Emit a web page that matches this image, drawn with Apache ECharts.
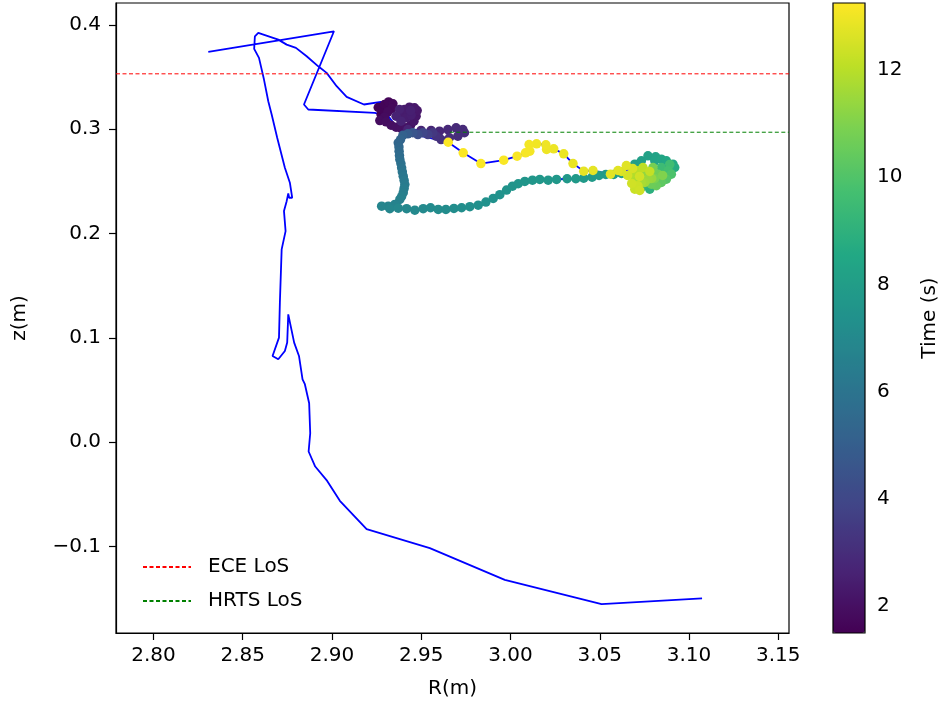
<!DOCTYPE html>
<html>
<head>
<meta charset="utf-8">
<script src="https://cdn.jsdelivr.net/npm/echarts@6/dist/echarts.min.js"></script>
<style>
html,body{margin:0;padding:0;background:#fff;}
#chart{width:946px;height:708px;}
</style>
</head>
<body>
<div id="chart"></div>
<script>
// ---- trajectory before the coloured (time-resolved) part ----
const preR = [2.8307, 2.9011, 2.8843, 2.8867, 2.9240];
const preZ = [0.3741, 0.3939, 0.3237, 0.3189, 0.3157];

// ---- time-resolved points (R, z, time) ----
const scatR = [
 2.9275,2.9259,2.9285,2.9294,2.9317,2.9341,2.9335,2.9313,2.9294,2.9268,
 2.9303,2.9331,2.9359,2.9387,2.9415,2.9440,2.9459,2.9471,2.9477,2.9462,
 2.9434,2.9406,2.9397,2.9415,2.9443,2.9440,2.9378,2.9359,2.9387,2.9425,
 2.9499,2.9555,2.9602,2.9649,2.9695,2.9733,2.9742,2.9705,2.9658,2.9611,2.9583,
 2.9565,2.9537,2.9509,2.9481,2.9453,2.9425,2.9397,2.9384,
 2.9371,2.9375,2.9376,2.9378,2.9380,2.9386,2.9390,2.9394,2.9399,2.9404,2.9408,2.9404,2.9399,2.9390,2.9380,2.9352,2.9315,2.9278,
 2.9324,2.9371,2.9418,2.9464,2.9511,2.9552,2.9595,2.9638,2.9683,2.9726,2.9772,2.9819,2.9862,2.9903,2.9940,2.9978,3.0011,3.0043,3.0080,3.0123,3.0164,3.0211,3.0258,3.0317,3.0366,3.0410,3.0457,3.0496,3.0534,3.0578,3.0622,
 3.0696,3.0733,3.0770,3.0813,3.0808,3.0845,3.0873,3.0910,3.0920,3.0892,3.0780,3.0733,3.0752,
 3.0845,3.0892,3.0883,3.0901,3.0873,3.0836,3.0845,3.0817,3.0789,3.0826,3.0798,3.0808,3.0852,
 3.0751,3.0791,3.0770,3.0752,3.0733,3.0696,3.0677,3.0714,3.0742,3.0780,
 3.0696,3.0714,3.0724,3.0679,3.0723,3.0656,3.0684,3.0622,
 3.0649,3.0602,3.0560,3.0462,3.0410,3.0350,3.0298,3.0242,3.0202,3.0198,3.0146,3.0104,3.0108,3.0084,3.0037,2.9962,2.9834,2.9735,2.9651
];
const scatZ = [
 0.3141,0.3208,0.3189,0.3237,0.3262,0.3243,0.3198,0.3167,0.3115,0.3083,
 0.3071,0.3038,0.3019,0.3007,0.3013,0.3038,0.3077,0.3125,0.3179,0.3205,
 0.3211,0.3189,0.3148,0.3109,0.3134,0.3179,0.3189,0.3125,0.3077,0.2997,
 0.2988,0.2988,0.2981,0.2997,0.3013,0.2997,0.2966,0.2933,0.2918,0.2901,0.2933,
 0.2966,0.2949,0.2966,0.2949,0.2966,0.2956,0.2942,0.2901,
 0.2870,0.2830,0.2789,0.2748,0.2710,0.2671,0.2630,0.2590,0.2550,0.2509,0.2470,0.2432,0.2391,0.2355,0.2327,0.2279,0.2262,0.2262,
 0.2238,0.2243,0.2238,0.2224,0.2238,0.2247,0.2231,0.2231,0.2240,0.2247,0.2257,0.2272,0.2301,0.2336,0.2372,0.2416,0.2454,0.2477,0.2499,0.2511,0.2518,0.2511,0.2518,0.2525,0.2525,0.2531,0.2540,0.2557,0.2566,0.2566,0.2576,
 0.2665,0.2697,0.2745,0.2736,0.2697,0.2713,0.2697,0.2665,0.2633,0.2614,0.2425,0.2442,0.2470,
 0.2633,0.2662,0.2602,0.2569,0.2521,0.2509,0.2489,0.2458,0.2473,0.2569,0.2633,0.2528,0.2557,
 0.2569,0.2528,0.2521,0.2489,0.2489,0.2506,0.2569,0.2602,0.2633,0.2595,
 0.2425,0.2458,0.2413,0.2480,0.2547,0.2557,0.2624,0.2595,
 0.2652,0.2604,0.2569,0.2604,0.2598,0.2671,0.2764,0.2812,0.2806,0.2851,0.2860,0.2853,0.2789,0.2774,0.2741,0.2703,0.2671,0.2774,0.2875
];
const scatT = [
 1.52,1.56,1.60,1.64,1.68,1.72,1.76,1.80,1.84,1.88,
 1.92,1.96,2.00,2.04,2.08,2.12,2.16,2.20,2.24,2.28,
 2.32,2.36,2.40,2.44,2.48,2.52,2.56,2.60,2.64,2.68,
 2.72,2.76,2.80,2.84,2.88,2.92,2.96,3.00,3.05,3.10,3.20,
 3.40,3.70,4.00,4.30,4.60,4.90,5.10,5.25,
 5.35,5.45,5.55,5.65,5.75,5.85,5.95,6.05,6.15,6.25,6.35,6.42,6.50,6.56,6.62,6.68,6.74,6.80,
 6.85,6.90,6.95,7.00,7.04,7.08,7.12,7.16,7.20,7.24,7.28,7.32,7.36,7.40,7.44,7.48,7.52,7.56,7.60,7.63,7.66,7.69,7.72,7.75,7.78,7.81,7.84,7.87,7.90,7.93,7.96,
 8.00,8.10,8.20,8.25,8.30,8.40,8.50,8.60,8.70,8.80,8.90,9.00,9.10,
 9.50,9.60,9.70,9.90,10.10,10.20,10.30,10.50,10.60,10.70,10.80,10.90,11.00,
 11.30,11.40,11.50,11.60,11.70,11.80,11.90,12.00,12.10,12.20,
 12.30,12.35,12.40,12.42,12.45,12.50,12.55,12.60,
 12.72,12.75,12.78,12.81,12.84,12.88,12.92,12.95,12.98,13.00,13.03,13.06,13.09,13.12,13.15,13.18,13.20,13.22,13.24
];

// ---- trajectory after the coloured part ----
const postR = [2.9380,2.9315,2.9274,2.9179,2.9082,2.9026,2.8970,2.8923,2.8858,2.8798,2.8746,2.8699,2.8587,2.8568,2.8564,2.8591,2.8619,2.8643,2.8662,2.8693,2.8736,2.8764,2.8777,2.8760,2.8755,2.8746,2.8731,2.8740,2.8718,2.8708,2.8703,2.8667,2.8699,2.8736,2.8749,2.8755,2.8788,2.8815,2.8835,2.8848,2.8872,2.8878,2.8869,2.8906,2.8973,2.9044,2.9194,2.9548,2.9968,3.0510,3.1073];
const postZ = [0.2981,0.3125,0.3262,0.3237,0.3310,0.3412,0.3540,0.3603,0.3699,0.3780,0.3811,0.3859,0.3923,0.3891,0.3770,0.3684,0.3476,0.3268,0.3141,0.2918,0.2630,0.2487,0.2343,0.2343,0.2384,0.2310,0.2215,0.2023,0.1848,0.1337,0.1002,0.0826,0.0794,0.0874,0.0954,0.1225,0.0954,0.0826,0.0602,0.0555,0.0373,0.0085,-0.0090,-0.0234,-0.0372,-0.0563,-0.0835,-0.1017,-0.1320,-0.1553,-0.1498];

// ---- lines of sight ----
const eceZ = 0.3531;
const hrtsZ = 0.2971;
const hrtsRStart = 2.966;

// ---- axes ----
const xMin = 2.779, xMax = 3.156;
const yMin = -0.183, yMax = 0.421;
const xTicks = [2.80, 2.85, 2.90, 2.95, 3.00, 3.05, 3.10, 3.15];
const yTicks = [-0.1, 0.0, 0.1, 0.2, 0.3, 0.4];
const tMin = 1.5, tMax = 13.25;
const cbTicks = [2, 4, 6, 8, 10, 12];

const viridis = ['#440154','#482475','#414487','#355f8d','#2a788e','#21918c','#22a884','#44bf70','#7ad151','#bddf26','#fde725'];

const lineData = [];
preR.forEach((r,i)=>lineData.push([r, preZ[i]]));
scatR.forEach((r,i)=>lineData.push([r, scatZ[i]]));
postR.forEach((r,i)=>lineData.push([r, postZ[i]]));
const scatData = scatR.map((r,i)=>[r, scatZ[i], scatT[i]]);

const FS = 20;
const txt = {fontFamily:'DejaVu Sans', fontSize:FS, color:'#000'};

const chart = echarts.init(document.getElementById('chart'), null, {renderer:'canvas'});
chart.setOption({
  animation:false,
  backgroundColor:'#ffffff',
  textStyle:{fontFamily:'DejaVu Sans'},
  grid:[
    {left:116, right:157, top:3, bottom:75, show:true, borderColor:'#000', borderWidth:1.2, backgroundColor:'transparent'},
    {left:833, width:32, top:3, bottom:75, show:true, borderColor:'#000', borderWidth:1.2, backgroundColor:'transparent', z:10}
  ],
  xAxis:[
    {gridIndex:0, type:'value', min:xMin, max:xMax,
     axisLine:{show:true, onZero:false, lineStyle:{color:'#000', width:1.2}},
     axisTick:{show:true, customValues:xTicks, length:7, lineStyle:{color:'#000', width:1.2}},
     axisLabel:Object.assign({customValues:xTicks, margin:13, formatter:v=>v.toFixed(2)}, txt),
     splitLine:{show:false},
     name:'R(m)', nameLocation:'middle', nameGap:46, nameTextStyle:txt},
    {gridIndex:1, type:'value', min:0, max:1, show:false}
  ],
  yAxis:[
    {gridIndex:0, type:'value', min:yMin, max:yMax,
     axisLine:{show:true, onZero:false, lineStyle:{color:'#000', width:1.2}},
     axisTick:{show:true, customValues:yTicks, length:7, lineStyle:{color:'#000', width:1.2}},
     axisLabel:Object.assign({customValues:yTicks, margin:15, formatter:v=>(v<0?'\u2212'+Math.abs(v).toFixed(1):v.toFixed(1))}, txt),
     splitLine:{show:false},
     name:'z(m)', nameLocation:'middle', nameGap:86, nameRotate:90, nameTextStyle:txt},
    {gridIndex:1, type:'value', min:tMin, max:tMax, position:'right',
     axisLine:{show:false},
     axisTick:{show:true, customValues:cbTicks, length:7, lineStyle:{color:'#000', width:1.2}},
     axisLabel:Object.assign({customValues:cbTicks, margin:12}, txt),
     splitLine:{show:false},
     name:'Time (s)', nameLocation:'middle', nameGap:55, nameRotate:90, nameTextStyle:txt}
  ],
  visualMap:{
    type:'continuous', min:tMin, max:tMax, dimension:2, seriesIndex:1,
    inRange:{color:viridis}, calculable:false, hoverLink:false,
    left:833, top:3, itemWidth:32, itemHeight:630, padding:0, z:4
  },
  legend:{
    data:['ECE LoS','HRTS LoS'], orient:'vertical', left:137, top:552,
    itemWidth:48, itemHeight:14, itemGap:14,
    itemStyle:{opacity:0},
    textStyle:Object.assign({padding:[0,0,0,12]}, txt)
  },
  series:[
    {type:'line', name:'trajectory', xAxisIndex:0, yAxisIndex:0, data:lineData, symbol:'none',
     lineStyle:{color:'#0000ff', width:1.8}, itemStyle:{color:'#0000ff'}, z:2, silent:true},
    {type:'scatter', name:'points', xAxisIndex:0, yAxisIndex:0, data:scatData, symbolSize:9.5,
     itemStyle:{opacity:1}, z:3, silent:true},
    {type:'line', name:'ECE LoS', xAxisIndex:0, yAxisIndex:0, data:[[xMin,eceZ],[xMax,eceZ]], symbol:'none',
     lineStyle:{color:'#ff0000', width:1, type:[4,2.5]}, itemStyle:{color:'#ff0000'}, z:4, silent:true},
    {type:'line', name:'HRTS LoS', xAxisIndex:0, yAxisIndex:0, data:[[hrtsRStart,hrtsZ],[xMax,hrtsZ]], symbol:'none',
     lineStyle:{color:'#008000', width:1, type:[4,2.5]}, itemStyle:{color:'#008000'}, z:4, silent:true}
  ]
});
</script>
</body>
</html>
